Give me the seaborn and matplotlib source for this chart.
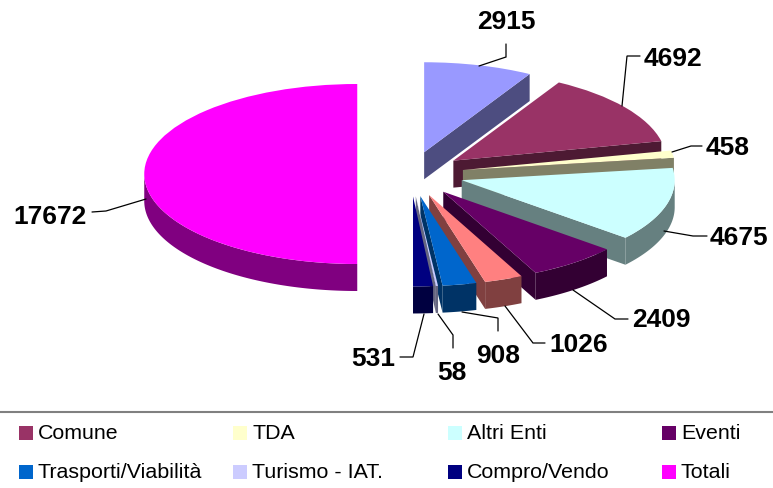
import numpy as np
import matplotlib
matplotlib.use("Agg")
import matplotlib.pyplot as plt
from matplotlib.patches import Polygon, Rectangle
import seaborn as sns

values = [2915, 4692, 458, 4675, 2409, 1026, 908, 58, 531, 17672]
colors = ["#9999FF", "#993366", "#FFFFCC", "#CCFFFF", "#660066",
          "#FF8080", "#0066CC", "#CCCCFF", "#000080", "#FF00FF"]

legend_names = ["Comune", "TDA", "Altri Enti", "Eventi",
                "Trasporti/Viabilità", "Turismo - IAT.", "Compro/Vendo", "Totali"]
legend_colors = ["#993366", "#FFFFCC", "#CCFFFF", "#660066",
                 "#0066CC", "#CCCCFF", "#000080", "#FF00FF"]

# label anchor in pixels, then the leader line running to the slice
label_pos = [(506, 22), (673, 59), (728, 148), (739, 238), (661, 320),
             (579, 345), (498, 356), (452, 373), (373, 359), (50, 217)]
leaders = [
    [(506, 45), (506, 58), (479, 67)],
    [(640, 57), (627, 57), (622, 107)],
    [(702, 147), (691, 147), (672, 153)],
    [(707, 237), (693, 237), (664, 232)],
    [(628, 320), (615, 320), (573, 291)],
    [(545, 344), (533, 344), (505, 307)],
    [(498, 332), (498, 319), (462, 313)],
    [(453, 349), (453, 336), (438, 315)],
    [(400, 358), (413, 358), (424, 315)],
    [(92, 213), (106, 212), (146, 200)],
]

WIDTH, HEIGHT = 773, 489
CX, CY = 410.5, 175      # pie centre in pixels
RX, RY = 213, 90         # radii of the tilted top face
DEPTH = 0.3              # wall height, in units of RY

sns.set_theme(style="white")
plt.rcParams["font.family"] = ["Liberation Sans", "DejaVu Sans"]

fig = plt.figure(figsize=(WIDTH / 100, HEIGHT / 100), dpi=100)
ax = fig.add_axes([0, 0, 1, 1])
wedges, _ = ax.pie(values, colors=sns.color_palette(colors), startangle=90,
                   counterclock=False, explode=[0.25] * len(values),
                   wedgeprops={"linewidth": 0})
# non equal scaling squashes the circle into the tilted ellipse
ax.set_aspect("auto")
ax.set_xlim(-CX / RX, (WIDTH - CX) / RX)
ax.set_ylim((CY - HEIGHT) / RY, CY / RY)
ax.set_axis_off()


def draw_walls(wedge, zorder):
    cx, cy = wedge.center
    shade = np.array(matplotlib.colors.to_rgb(wedge.get_facecolor())) * 0.5
    # cut edge at the clockwise end of the slice
    a = np.radians(wedge.theta1)
    end = (cx + np.cos(a), cy + np.sin(a))
    pts = [(cx, cy), end, (end[0], end[1] - DEPTH), (cx, cy - DEPTH)]
    ax.add_patch(Polygon(pts, closed=True, fc=shade, ec="none", zorder=zorder))
    # outer rim, only the part facing the viewer (lower half of the ellipse)
    t = np.radians(np.linspace(wedge.theta1, wedge.theta2, 600))
    t = t[np.sin(t) <= 0]
    if len(t) > 1:
        x = cx + np.cos(t)
        y = cy + np.sin(t)
        pts = np.r_[np.c_[x, y], np.c_[x, y - DEPTH][::-1]]
        ax.add_patch(Polygon(pts, closed=True, fc=shade, ec="none", zorder=zorder))


for i, wedge in enumerate(wedges):
    # Totali sits behind, the rest are stacked clockwise
    z = 2 + 3 * ((i + 1) % len(wedges))
    draw_walls(wedge, z)
    wedge.set_zorder(z + 1)

# overlay in pixel coordinates for labels, leaders and legend
over = fig.add_axes([0, 0, 1, 1], facecolor="none")
over.set_xlim(0, WIDTH)
over.set_ylim(HEIGHT, 0)
over.set_axis_off()

for val, (lx, ly), line in zip(values, label_pos, leaders):
    over.plot(*zip(*line), color="black", lw=0.9, solid_joinstyle="miter")
    over.text(lx, ly, str(val), fontsize=19, fontweight="bold",
              ha="center", va="center", color="black")

over.plot([0, WIDTH], [412.5, 412.5], color="#808080", lw=1.5)
for i, (name, col) in enumerate(zip(legend_names, legend_colors)):
    x0 = 19 + 214.3 * (i % 4)
    y0 = 427 + 39 * (i // 4)
    over.add_patch(Rectangle((x0, y0), 14, 14, fc=col, ec="none"))
    over.text(x0 + 19, y0 + 6.5, name, fontsize=15.4, ha="left", va="center",
              color="black")

fig.savefig("out.png", dpi=100)
plt.close(fig)
